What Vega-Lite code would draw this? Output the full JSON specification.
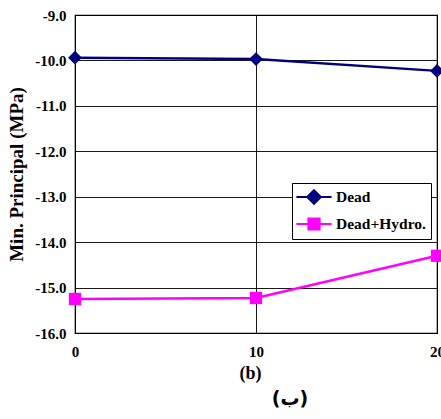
{
  "$schema": "https://vega.github.io/schema/vega-lite/v6.json",
  "width": 362,
  "height": 318,
  "autosize": "none",
  "padding": {"left": 75, "top": 15, "right": 4, "bottom": 86},
  "background": "white",
  "config": {
    "font": "Liberation Serif",
    "view": {"stroke": "black", "strokeWidth": 1.2}
  },
  "data": {
    "values": [
      {"x": 0, "value": -9.94, "series": "Dead"},
      {"x": 10, "value": -9.97, "series": "Dead"},
      {"x": 20, "value": -10.23, "series": "Dead"},
      {"x": 0, "value": -15.25, "series": "Dead+Hydro."},
      {"x": 10, "value": -15.23, "series": "Dead+Hydro."},
      {"x": 20, "value": -14.3, "series": "Dead+Hydro."}
    ]
  },
  "title": {
    "text": "(ب)",
    "orient": "bottom",
    "anchor": "middle",
    "frame": "group",
    "dx": 34,
    "offset": 8,
    "font": "DejaVu Sans",
    "fontSize": 19,
    "fontWeight": "bold",
    "color": "black"
  },
  "encoding": {
    "x": {
      "field": "x",
      "type": "quantitative",
      "scale": {"domain": [0, 20], "nice": false, "zero": false},
      "axis": {
        "values": [0, 10, 20],
        "grid": true,
        "gridColor": "black",
        "gridOpacity": 0.9,
        "domain": false,
        "ticks": false,
        "labelFont": "Liberation Serif",
        "labelFontWeight": "bold",
        "labelFontSize": 15,
        "labelColor": "black",
        "labelPadding": 11,
        "labelFlush": false,
        "title": "(b)",
        "titleFont": "Liberation Serif",
        "titleFontWeight": "bold",
        "titleColor": "black",
        "titleFontSize": 18,
        "titlePadding": 5,
        "titleX": 175
      }
    },
    "y": {
      "field": "value",
      "type": "quantitative",
      "scale": {"domain": [-16, -9], "nice": false, "zero": false},
      "axis": {
        "values": [-16, -15, -14, -13, -12, -11, -10, -9],
        "labelExpr": "replace(format(datum.value, '.1f'), '\u2212', '-')",
        "grid": true,
        "gridColor": "black",
        "gridOpacity": 0.9,
        "domain": false,
        "ticks": false,
        "labelFont": "Liberation Serif",
        "labelFontWeight": "bold",
        "labelFontSize": 15,
        "labelColor": "black",
        "labelPadding": 9,
        "title": "Min.  Principal (MPa)",
        "titleFont": "Liberation Serif",
        "titleFontWeight": "bold",
        "titleColor": "black",
        "titleFontSize": 19,
        "titlePadding": 8
      }
    }
  },
  "layer": [
    {
      "mark": {"type": "line", "strokeWidth": 2.5},
      "encoding": {
        "stroke": {
          "field": "series",
          "type": "nominal",
          "scale": {"domain": ["Dead", "Dead+Hydro."], "range": ["#000080", "#FF00FF"]},
          "legend": {
            "title": null,
            "orient": "none",
            "legendX": 217,
            "legendY": 168,
            "padding": 5,
            "strokeColor": "black",
            "fillColor": "white",
            "symbolSize": 256,
            "symbolStrokeWidth": 2,
            "rowPadding": 6,
            "labelOffset": 21,
            "labelFont": "Liberation Serif",
            "labelFontWeight": "bold",
            "labelFontSize": 15.5,
            "labelColor": "black",
            "encode": {
              "symbols": {
                "update": {
                  "shape": {"signal": "datum.value === 'Dead' ? 'M-1.2,0L3.2,0M1,-0.85L1.85,0L1,0.85L0.15,0Z' : 'M-1.2,0L3.2,0M0.3,-0.7L1.7,-0.7L1.7,0.7L0.3,0.7Z'"},
                  "fill": {"signal": "datum.value === 'Dead' ? '#000080' : '#FF00FF'"},
                  "stroke": {"signal": "datum.value === 'Dead' ? '#000080' : '#FF00FF'"},
                  "strokeWidth": {"value": 2},
                  "opacity": {"value": 1}
                }
              }
            }
          }
        }
      }
    },
    {
      "transform": [{"filter": "datum.series === 'Dead'"}],
      "mark": {"type": "point", "filled": true, "opacity": 1, "shape": "diamond", "size": 190, "color": "#000080"}
    },
    {
      "transform": [{"filter": "datum.series === 'Dead+Hydro.'"}],
      "mark": {"type": "point", "filled": true, "opacity": 1, "shape": "square", "size": 150, "color": "#FF00FF"}
    }
  ]
}
